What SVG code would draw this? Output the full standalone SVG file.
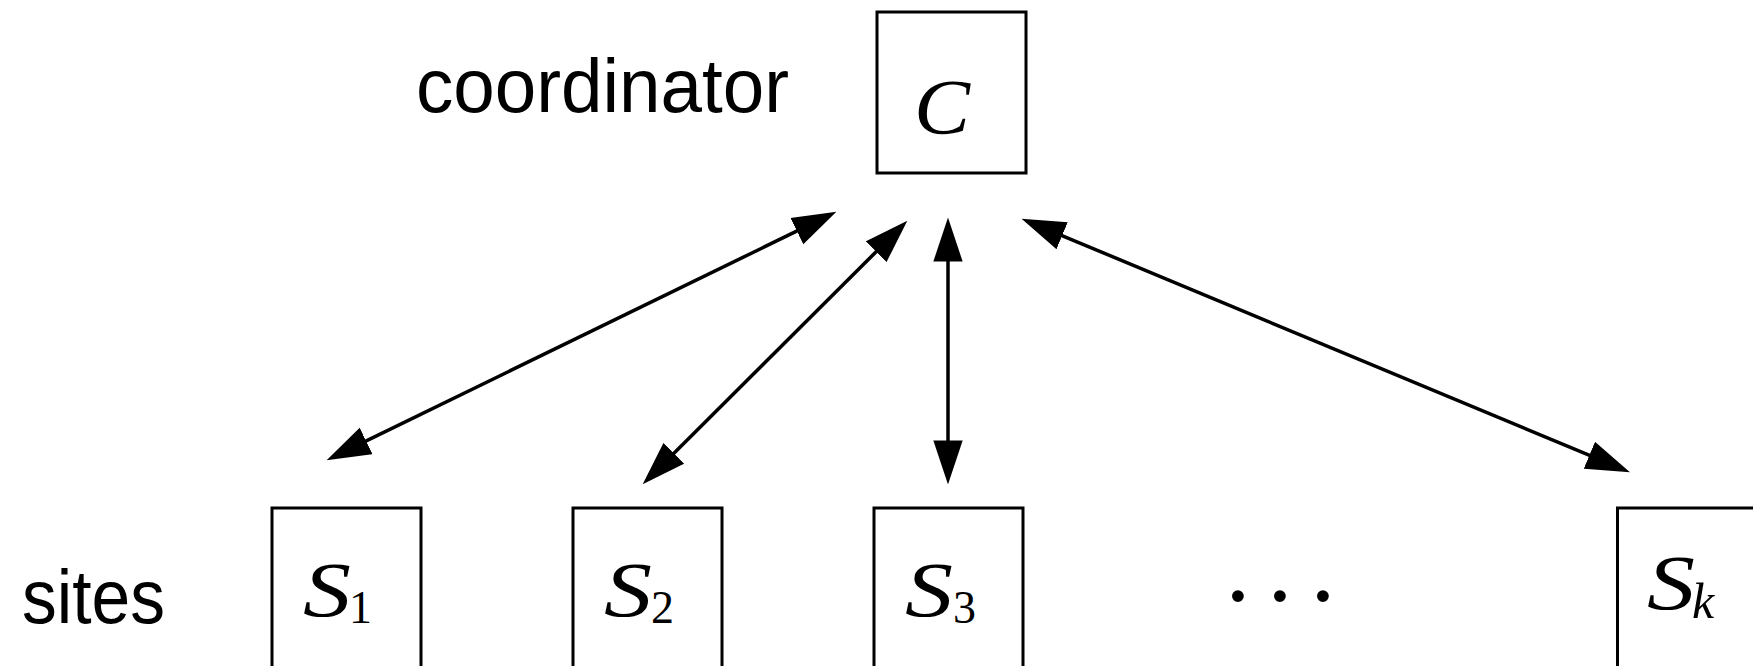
<svg xmlns="http://www.w3.org/2000/svg" width="1753" height="666" viewBox="0 0 1753 666">
  <style>
    .box { fill: #fff; stroke: #000; stroke-width: 3; }
    .edge { stroke: #000; stroke-width: 3.5; fill: none; marker-start: url(#head); marker-end: url(#head); }
    .sans { font-family: "Liberation Sans", Arial, sans-serif; font-size: 76px; fill: #000; }
    .math { font-family: "Liberation Serif", "Times New Roman", serif; font-style: italic; font-size: 78px; fill: #000; }
    .sub { font-family: "Liberation Serif", "Times New Roman", serif; font-size: 46px; fill: #000; }
    .subi { font-family: "Liberation Serif", "Times New Roman", serif; font-style: italic; font-size: 50px; fill: #000; }
    .dots { font-family: "Liberation Serif", "Times New Roman", serif; font-size: 100px; fill: #000; }
  </style>
  <defs>
    <marker id="head" markerUnits="userSpaceOnUse" markerWidth="44" markerHeight="30" viewBox="0 0 42 28" refX="32" refY="14" orient="auto-start-reverse">
      <path d="M0,0 L42,14 L0,28 z" fill="#000"/>
    </marker>
  </defs>
  <rect width="1753" height="666" fill="#fff"/>

  <text class="sans" x="416" y="112" textLength="373" lengthAdjust="spacingAndGlyphs">coordinator</text>
  <text class="sans" x="22" y="623" textLength="143" lengthAdjust="spacingAndGlyphs">sites</text>

  <g id="coordinator">
    <rect class="box" x="877" y="12" width="149" height="161"/>
    <text class="math" x="914" y="133" font-size="80" textLength="56" lengthAdjust="spacingAndGlyphs">C</text>
  </g>

  <g id="site-1">
    <rect class="box" x="272" y="508" width="149" height="161"/>
    <text class="math" x="303" y="616" textLength="48" lengthAdjust="spacingAndGlyphs">S</text>
    <text class="sub" x="349" y="623">1</text>
  </g>
  <g id="site-2">
    <rect class="box" x="573" y="508" width="149" height="161"/>
    <text class="math" x="604" y="616" textLength="48" lengthAdjust="spacingAndGlyphs">S</text>
    <text class="sub" x="651" y="623">2</text>
  </g>
  <g id="site-3">
    <rect class="box" x="874" y="508" width="149" height="161"/>
    <text class="math" x="905" y="616" textLength="48" lengthAdjust="spacingAndGlyphs">S</text>
    <text class="sub" x="953" y="623">3</text>
  </g>
  <g id="ellipsis">
    <text class="dots" x="1238 1280 1323" y="629" text-anchor="middle">···</text>
  </g>
  <g id="site-k">
    <rect class="box" x="1617.5" y="508" width="149" height="161"/>
    <text class="math" x="1647" y="609" textLength="48" lengthAdjust="spacingAndGlyphs">S</text>
    <text class="subi" x="1692" y="618">k</text>
  </g>

  <g id="connectors">
    <line class="edge" x1="336.0" y1="455.6" x2="827.0" y2="216.4"/>
    <line class="edge" x1="650.1" y1="476.9" x2="899.9" y2="228.1"/>
    <line class="edge" x1="948" y1="474" x2="948" y2="228"/>
    <line class="edge" x1="1031.2" y1="222.8" x2="1620.3" y2="468.2"/>
  </g>
</svg>
